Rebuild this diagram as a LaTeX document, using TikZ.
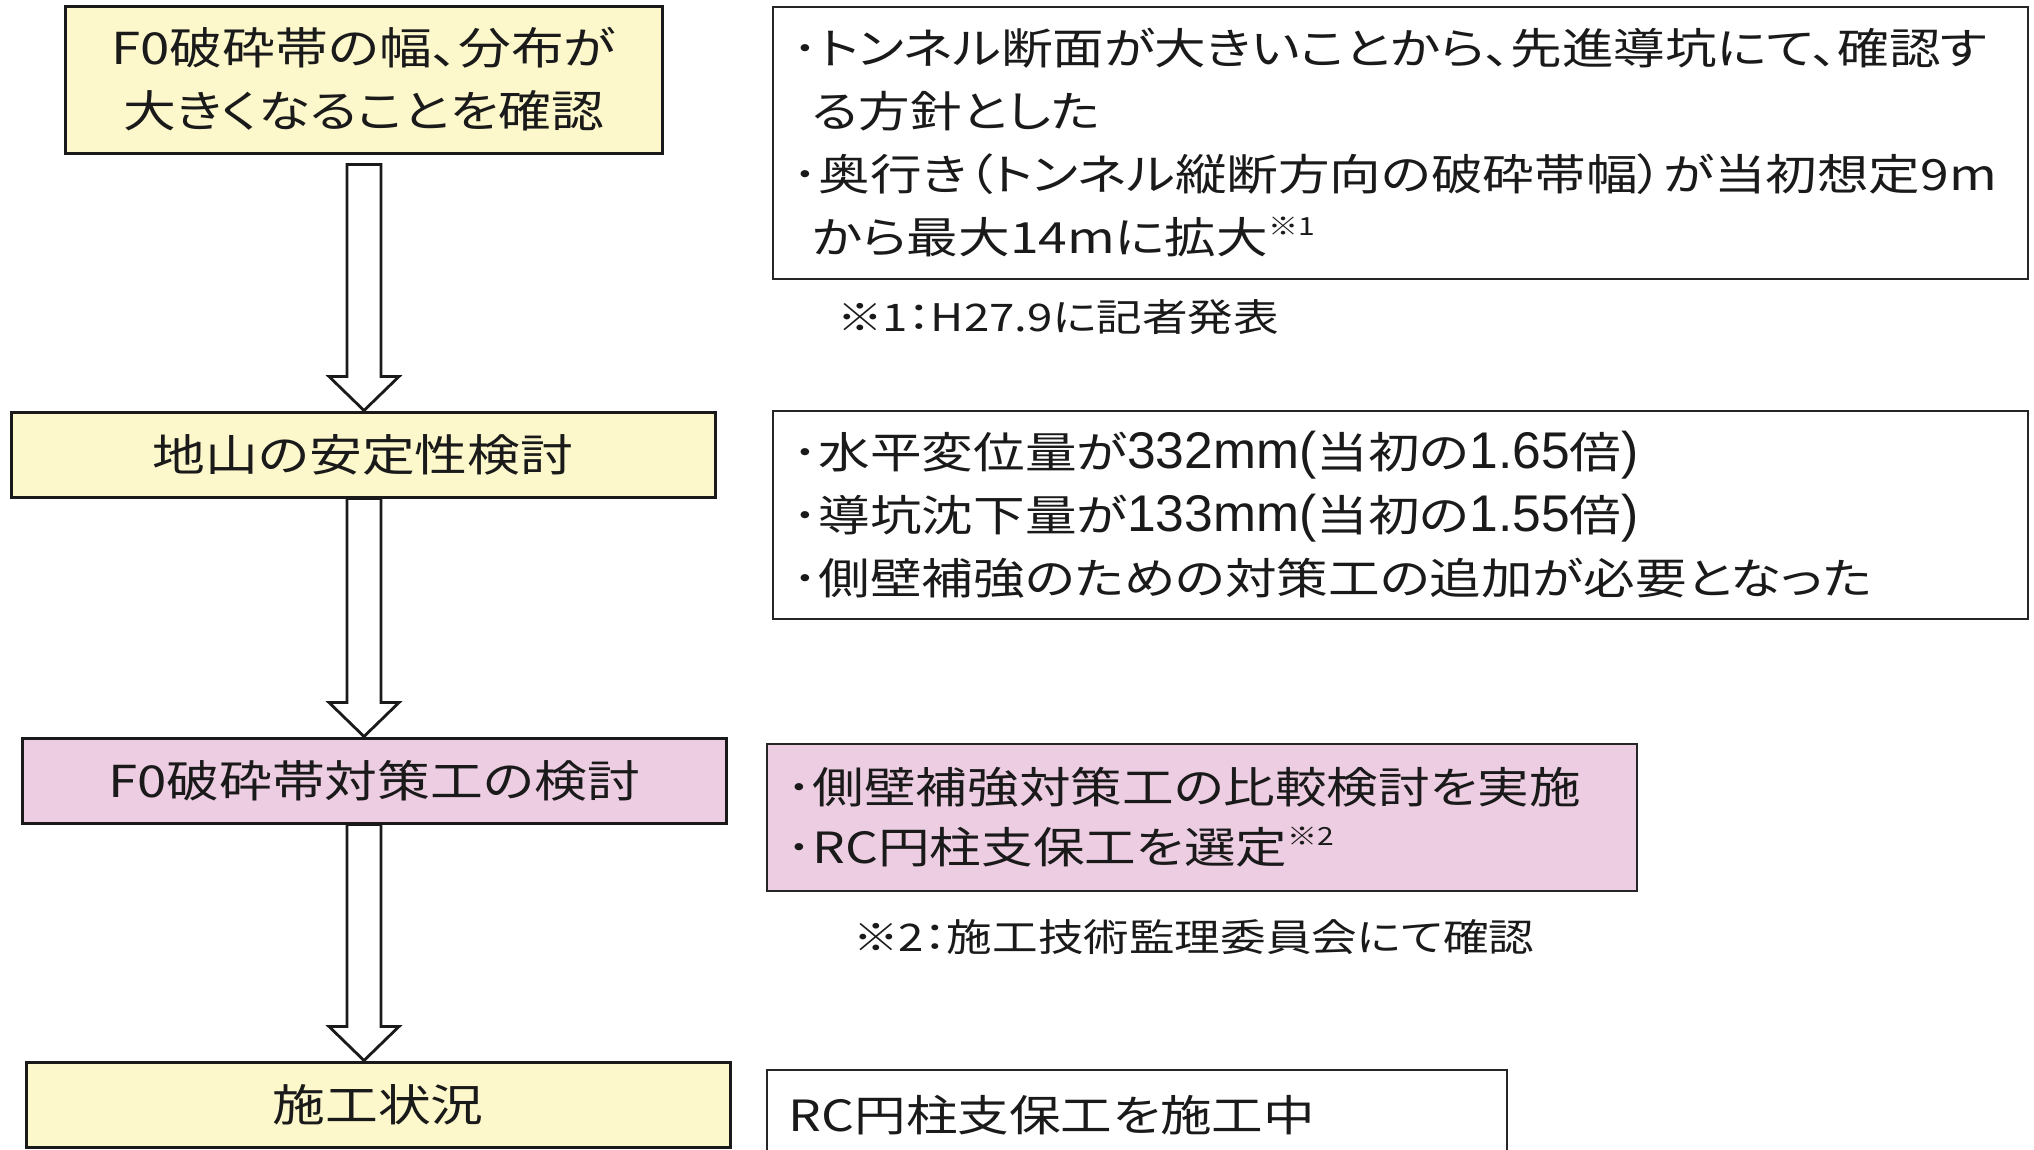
\documentclass[tikz,border=0pt]{standalone}
\usepackage{fontspec}
\setmainfont{Noto Sans CJK JP}[RawFeature=+palt, FakeStretch=1.2]
\newfontfamily\latnarrow{Liberation Sans}[Scale=1.2]
\usetikzlibrary{calc}
\definecolor{boxyellow}{RGB}{252,248,204}
\definecolor{boxpink}{RGB}{237,205,225}
\definecolor{inkc}{RGB}{26,26,26}
\newcommand\supnote[1]{\raisebox{0.42em}{\fontsize{25}{25}\selectfont #1}}
\newcommand\lt[1]{{\latnarrow #1}}
\newcommand\fatarrow[3]{%
  \draw[fatarrow] let \p1=(#1), \p2=(#2) in
  (347pt,{\y1-#3}) -- (381pt,{\y1-#3}) -- (381pt,{\y2+34pt}) -- (399pt,{\y2+34pt})
  -- (364pt,\y2) -- (329pt,{\y2+34pt}) -- (347pt,{\y2+34pt}) -- cycle;}
\tikzset{
  stepbox/.style={draw=inkc, line width=3pt, inner sep=0pt, text=inkc,
    font=\fontsize{44}{63}\selectfont, align=center},
  notebox/.style={draw=black!85, line width=1.8pt, fill=white, anchor=north west,
    align=left, inner ysep=0pt, text=inkc, font=\fontsize{43}{63}\selectfont},
  fnote/.style={anchor=west, inner sep=0pt, text=inkc, font=\fontsize{38}{44}\selectfont},
  fatarrow/.style={draw=inkc, line width=2.8pt, fill=white, line join=miter},
}
\begin{document}
\begin{tikzpicture}[x=1pt,y=-1pt]
\useasboundingbox (0,0) rectangle (2034,1149);
\clip (0,0) rectangle (2034,1149);
\fill[white] (0,0) rectangle (2034,1149);

% left flow boxes
\node[stepbox, fill=boxyellow, minimum width=597pt, minimum height=147pt] (b1) at (363.5,79.5)
  {F0破砕帯の幅、分布が\\大きくなることを確認};
\node[stepbox, fill=boxyellow, minimum width=704pt, minimum height=85pt] (b2) at (363,454.5)
  {地山の安定性検討};
\node[stepbox, fill=boxpink, minimum width=704pt, minimum height=85pt] (b3) at (374,780.5)
  {F0破砕帯対策工の検討};
\node[stepbox, fill=boxyellow, minimum width=704pt, minimum height=85pt] (b4) at (378,1104.5)
  {施工状況};

% block arrows
\fatarrow{b1.south}{b2.north}{10pt}
\fatarrow{b2.south}{b3.north}{0pt}
\fatarrow{b3.south}{b4.north}{0pt}

% right-hand notes
\node[notebox, inner xsep=20pt, text width=1215pt, minimum width=1255pt, minimum height=272pt] (p1) at (772,6)
  {･トンネル断面が大きいことから、先進導坑にて、確認す\\
   \hspace*{0.45em}る方針とした\\
   ･奥行き（トンネル縦断方向の破砕帯幅）が当初想定9m\\
   \hspace*{0.45em}から最大14mに拡大\supnote{※1}};
\node[fnote] (f1) at (837,317) {※1：H27.9に記者発表};

\node[notebox, inner xsep=20pt, text width=1215pt, minimum width=1255pt, minimum height=208pt] (p2) at (772,410)
  {･水平変位量が\lt{332mm(}当初の\lt{1.65}倍\lt{)}\\
   ･導坑沈下量が\lt{133mm(}当初の\lt{1.55}倍\lt{)}\\
   ･側壁補強のための対策工の追加が必要となった};

\node[notebox, fill=boxpink, inner xsep=20pt, text width=830pt, minimum width=870pt, minimum height=147pt,
  font=\fontsize{43}{60}\selectfont] (p3) at (766,743)
  {･側壁補強対策工の比較検討を実施\\
   ･RC円柱支保工を選定\supnote{※2}};
\node[fnote] (f2) at (853,937) {※2：施工技術監理委員会にて確認};

\node[notebox, inner xsep=22pt, text width=696pt, minimum width=740pt, minimum height=91pt] (p4) at (766,1069)
  {RC円柱支保工を施工中};
\end{tikzpicture}
\end{document}
